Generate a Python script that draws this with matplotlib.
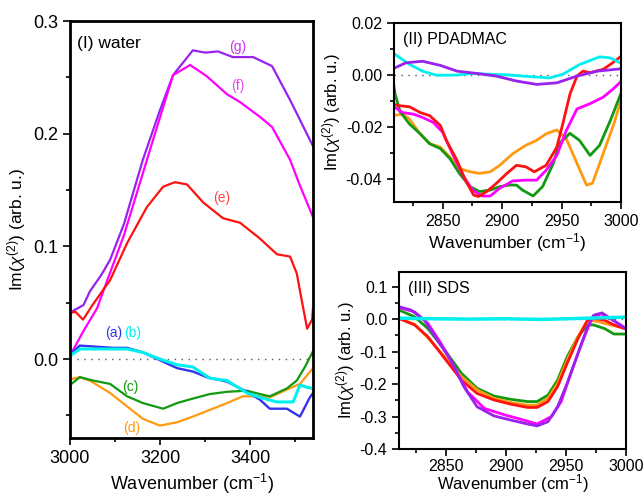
import matplotlib
matplotlib.use("Agg")
import matplotlib.pyplot as plt
from matplotlib.ticker import MultipleLocator, FormatStrFormatter

plt.rcParams['font.family'] = ['Liberation Sans', 'DejaVu Sans']
plt.rcParams['axes.unicode_minus'] = False
plt.rcParams['mathtext.fontset'] = 'custom'
plt.rcParams['mathtext.rm'] = 'Liberation Sans'
plt.rcParams['mathtext.it'] = 'Liberation Sans:italic'

# ---------------- Panel I: water ----------------
w_a_x = [3000, 3022, 3059, 3096, 3127, 3162, 3200, 3238, 3273, 3304, 3349, 3393, 3422, 3444, 3482, 3511, 3533, 3540]
w_a_y = [0.004, 0.012, 0.011, 0.010, 0.010, 0.006, -0.001, -0.008, -0.011, -0.016, -0.020, -0.029, -0.036, -0.044, -0.044, -0.051, -0.034, -0.030]
w_b_x = [3000, 3022, 3093, 3127, 3162, 3200, 3238, 3273, 3311, 3349, 3393, 3422, 3460, 3496, 3511, 3527, 3540]
w_b_y = [0.003, 0.009, 0.009, 0.009, 0.006, 0.000, -0.005, -0.007, -0.017, -0.019, -0.030, -0.034, -0.038, -0.038, -0.023, -0.025, -0.026]
w_c_x = [3000, 3022, 3051, 3089, 3127, 3162, 3207, 3238, 3273, 3311, 3349, 3393, 3422, 3444, 3482, 3504, 3522, 3540]
w_c_y = [-0.023, -0.016, -0.019, -0.022, -0.033, -0.039, -0.044, -0.039, -0.035, -0.031, -0.029, -0.028, -0.031, -0.033, -0.026, -0.019, -0.007, 0.007]
w_d_x = [3000, 3022, 3044, 3089, 3127, 3162, 3200, 3238, 3273, 3311, 3349, 3384, 3422, 3444, 3482, 3511, 3540]
w_d_y = [-0.018, -0.016, -0.019, -0.030, -0.042, -0.053, -0.059, -0.056, -0.051, -0.045, -0.039, -0.033, -0.033, -0.034, -0.027, -0.022, -0.008]
w_e_x = [3000, 3012, 3029, 3050, 3073, 3089, 3127, 3171, 3207, 3233, 3260, 3296, 3340, 3378, 3422, 3460, 3489, 3504, 3516, 3527, 3538, 3540]
w_e_y = [0.041, 0.042, 0.035, 0.048, 0.061, 0.070, 0.103, 0.135, 0.153, 0.157, 0.155, 0.139, 0.125, 0.121, 0.107, 0.093, 0.091, 0.076, 0.050, 0.027, 0.035, 0.045]
w_f_x = [3000, 3030, 3060, 3081, 3120, 3178, 3229, 3267, 3304, 3349, 3378, 3422, 3449, 3489, 3510, 3540]
w_f_y = [0.003, 0.025, 0.045, 0.068, 0.110, 0.186, 0.252, 0.261, 0.251, 0.235, 0.228, 0.215, 0.206, 0.177, 0.155, 0.126]
w_g_x = [3000, 3012, 3030, 3044, 3070, 3089, 3120, 3162, 3200, 3229, 3273, 3300, 3329, 3362, 3407, 3449, 3489, 3540]
w_g_y = [0.041, 0.044, 0.048, 0.060, 0.075, 0.088, 0.120, 0.177, 0.221, 0.252, 0.274, 0.272, 0.273, 0.268, 0.268, 0.260, 0.230, 0.189]

# ---------------- Panel II: PDADMAC ----------------
p_cyan_x = [2808, 2822, 2833, 2845, 2862, 2875, 2890, 2904, 2923, 2940, 2951, 2965, 2982, 2991, 3000]
p_cyan_y = [0.0085, 0.0041, 0.0015, -0.0001, 0.0000, 0.0006, 0.0003, 0.0001, -0.0006, -0.0011, 0.0003, 0.0040, 0.0070, 0.0066, 0.0045]
p_purple_x = [2808, 2819, 2833, 2848, 2862, 2879, 2895, 2912, 2929, 2946, 2963, 2980, 3000]
p_purple_y = [0.0024, 0.0047, 0.0053, 0.0037, 0.0015, 0.0006, -0.0004, -0.0023, -0.0036, -0.0030, -0.0004, 0.0015, 0.0024]
p_red_x = [2808, 2814, 2822, 2831, 2839, 2848, 2853, 2862, 2869, 2876, 2880, 2887, 2895, 2904, 2912, 2920, 2927, 2937, 2946, 2951, 2957, 2963, 2968, 2974, 2985, 2993, 3000]
p_red_y = [-0.0112, -0.0118, -0.0122, -0.0144, -0.0156, -0.0194, -0.0251, -0.0328, -0.0404, -0.0461, -0.0467, -0.0448, -0.0417, -0.0378, -0.0347, -0.0353, -0.0372, -0.0347, -0.0277, -0.0188, -0.0074, -0.0004, 0.0015, 0.0009, 0.0022, 0.0047, 0.0072]
p_magenta_x = [2808, 2816, 2825, 2833, 2842, 2850, 2858, 2867, 2875, 2883, 2890, 2898, 2909, 2920, 2929, 2937, 2946, 2954, 2963, 2974, 2985, 2993, 3000]
p_magenta_y = [-0.0118, -0.0144, -0.0150, -0.0163, -0.0182, -0.0220, -0.0301, -0.0385, -0.0442, -0.0465, -0.0465, -0.0435, -0.0407, -0.0404, -0.0404, -0.0366, -0.0309, -0.0213, -0.0130, -0.0110, -0.0085, -0.0055, -0.0025]
p_green_x = [2808, 2810, 2814, 2822, 2831, 2839, 2848, 2856, 2864, 2873, 2881, 2890, 2898, 2906, 2912, 2917, 2926, 2934, 2943, 2948, 2957, 2965, 2974, 2982, 2991, 3000]
p_green_y = [-0.0017, -0.0074, -0.0140, -0.0188, -0.0226, -0.0264, -0.0283, -0.0321, -0.0378, -0.0429, -0.0448, -0.0442, -0.0429, -0.0423, -0.0423, -0.0442, -0.0465, -0.0429, -0.0340, -0.0264, -0.0224, -0.0251, -0.0309, -0.0270, -0.0175, -0.0070]
p_orange_x = [2808, 2816, 2822, 2831, 2839, 2848, 2856, 2864, 2873, 2881, 2890, 2898, 2909, 2920, 2929, 2937, 2946, 2954, 2963, 2971, 2976, 2985, 2994, 3000]
p_orange_y = [-0.0156, -0.0150, -0.0169, -0.0226, -0.0264, -0.0277, -0.0315, -0.0359, -0.0372, -0.0378, -0.0372, -0.0347, -0.0302, -0.0270, -0.0251, -0.0226, -0.0211, -0.0245, -0.0340, -0.0423, -0.0416, -0.0302, -0.0188, -0.0095]

# ---------------- Panel III: SDS ----------------
s_cyan_x = [2810, 2840, 2870, 2900, 2930, 2960, 2980, 3000]
s_cyan_y = [0.003, 0.001, 0.000, 0.001, -0.001, 0.002, 0.004, 0.006]
s_purple_x = [2811, 2821, 2832, 2843, 2854, 2865, 2876, 2890, 2904, 2918, 2926, 2935, 2943, 2951, 2960, 2968, 2973, 2980, 2987, 3000]
s_purple_y = [0.038, 0.028, -0.003, -0.065, -0.126, -0.208, -0.270, -0.298, -0.311, -0.323, -0.329, -0.316, -0.270, -0.198, -0.106, -0.024, 0.012, 0.019, 0.002, -0.030]
s_magenta_x = [2811, 2824, 2835, 2846, 2857, 2868, 2882, 2899, 2913, 2926, 2938, 2946, 2954, 2963, 2971, 2979, 2987, 3000]
s_magenta_y = [0.036, 0.022, -0.013, -0.075, -0.147, -0.224, -0.275, -0.295, -0.309, -0.323, -0.300, -0.254, -0.167, -0.075, -0.003, 0.017, 0.002, -0.029]
s_green_x = [2811, 2824, 2835, 2849, 2863, 2876, 2890, 2904, 2918, 2926, 2935, 2943, 2951, 2960, 2968, 2973, 2982, 2990, 3000]
s_green_y = [0.028, 0.007, -0.029, -0.095, -0.167, -0.213, -0.237, -0.247, -0.254, -0.254, -0.234, -0.188, -0.116, -0.054, -0.018, -0.018, -0.029, -0.046, -0.046]
s_orange_x = [2811, 2824, 2835, 2849, 2863, 2876, 2890, 2904, 2918, 2926, 2935, 2943, 2951, 2960, 2968, 2977, 2987, 3000]
s_orange_y = [0.002, -0.016, -0.058, -0.116, -0.177, -0.218, -0.244, -0.257, -0.265, -0.265, -0.244, -0.198, -0.126, -0.054, -0.003, -0.008, -0.018, -0.029]
s_red_x = [2811, 2824, 2835, 2849, 2863, 2876, 2890, 2904, 2918, 2926, 2935, 2943, 2951, 2960, 2968, 2973, 2982, 2990, 3000]
s_red_y = [0.002, -0.018, -0.054, -0.121, -0.188, -0.229, -0.249, -0.262, -0.272, -0.272, -0.254, -0.208, -0.136, -0.060, -0.003, 0.002, -0.003, -0.018, -0.031]

C_BLUE = '#3333ee'
C_CYAN = '#00f0f0'
C_GREEN = '#119911'
C_ORANGE = '#ff9911'
C_RED = '#ff1111'
C_MAG = '#ff00ff'
C_PURP = '#9922ee'

ylab = r'Im($\chi^{(2)}$) (arb. u.)'

fig = plt.figure(figsize=(6.44, 4.97), dpi=100)

def style(ax, spw=1.8):
    for s in ax.spines.values():
        s.set_linewidth(spw)
    ax.tick_params(which='both', direction='out', top=False, right=False, width=1.2)
    ax.tick_params(which='major', length=5)
    ax.tick_params(which='minor', length=3)

# Panel I
ax1 = fig.add_axes([0.1087, 0.1187, 0.3773, 0.839])
ax1.axhline(0, color='#555555', ls=(0, (1, 4)), lw=1.0, zorder=1)
ax1.plot(w_g_x, w_g_y, color=C_PURP, lw=1.6)
ax1.plot(w_f_x, w_f_y, color=C_MAG, lw=1.6)
ax1.plot(w_e_x, w_e_y, color=C_RED, lw=1.6)
ax1.plot(w_d_x, w_d_y, color=C_ORANGE, lw=1.6)
ax1.plot(w_c_x, w_c_y, color=C_GREEN, lw=1.6)
ax1.plot(w_a_x, w_a_y, color=C_BLUE, lw=1.7)
ax1.plot(w_b_x, w_b_y, color=C_CYAN, lw=2.2)
ax1.set_xlim(3000, 3540)
ax1.set_ylim(-0.07, 0.3)
ax1.xaxis.set_major_locator(MultipleLocator(200))
ax1.xaxis.set_minor_locator(MultipleLocator(100))
ax1.yaxis.set_major_locator(MultipleLocator(0.1))
ax1.yaxis.set_minor_locator(MultipleLocator(0.05))
ax1.yaxis.set_major_formatter(FormatStrFormatter('%.1f'))
style(ax1, 2.0)
ax1.tick_params(labelsize=13)
ax1.set_xlabel(r'Wavenumber (cm$^{-1}$)', fontsize=13, labelpad=4)
ax1.set_ylabel(ylab, fontsize=12.5, labelpad=4)
ax1.text(0.03, 0.965, '(I) water', transform=ax1.transAxes, fontsize=12.5, va='top', ha='left')
ax1.text(3373, 0.277, '(g)', color='#cc33ee', fontsize=10, ha='center', va='center')
ax1.text(3373, 0.242, '(f)', color='#ee44ee', fontsize=10, ha='center', va='center')
ax1.text(3338, 0.143, '(e)', color='#ff4444', fontsize=10, ha='center', va='center')
ax1.text(3096, 0.023, '(a)', color=C_BLUE, fontsize=10, ha='center', va='center')
ax1.text(3140, 0.023, '(b)', color=C_CYAN, fontsize=10, ha='center', va='center')
ax1.text(3133, -0.025, '(c)', color=C_GREEN, fontsize=10, ha='center', va='center')
ax1.text(3136, -0.061, '(d)', color=C_ORANGE, fontsize=10, ha='center', va='center')

# Panel II
ax2 = fig.add_axes([0.6118, 0.5936, 0.3525, 0.3601])
ax2.axhline(0, color='#555555', ls=(0, (1, 4)), lw=1.0, zorder=1)
lw2 = 2.0
ax2.plot(p_orange_x, p_orange_y, color=C_ORANGE, lw=lw2)
ax2.plot(p_green_x, p_green_y, color=C_GREEN, lw=lw2)
ax2.plot(p_magenta_x, p_magenta_y, color=C_MAG, lw=lw2)
ax2.plot(p_red_x, p_red_y, color=C_RED, lw=lw2)
ax2.plot(p_cyan_x, p_cyan_y, color=C_CYAN, lw=lw2)
ax2.plot(p_purple_x, p_purple_y, color=C_PURP, lw=lw2)
ax2.set_xlim(2809, 3000)
ax2.set_ylim(-0.0488, 0.02)
ax2.xaxis.set_major_locator(MultipleLocator(50))
ax2.xaxis.set_minor_locator(MultipleLocator(25))
ax2.yaxis.set_major_locator(MultipleLocator(0.02))
ax2.yaxis.set_minor_locator(MultipleLocator(0.01))
ax2.yaxis.set_major_formatter(FormatStrFormatter('%.2f'))
style(ax2, 1.5)
ax2.tick_params(labelsize=11.5)
ax2.set_xlabel(r'Wavenumber (cm$^{-1}$)', fontsize=12.5, labelpad=2)
ax2.set_ylabel(ylab, fontsize=12, labelpad=2)
ax2.text(0.04, 0.95, '(II) PDADMAC', transform=ax2.transAxes, fontsize=11.5, va='top', ha='left')

# Panel III
ax3 = fig.add_axes([0.6196, 0.0966, 0.3525, 0.3561])
ax3.axhline(0, color='#555555', ls=(0, (1, 4)), lw=1.0, zorder=1)
ax3.plot(s_green_x, s_green_y, color=C_GREEN, lw=lw2)
ax3.plot(s_orange_x, s_orange_y, color=C_ORANGE, lw=lw2)
ax3.plot(s_red_x, s_red_y, color=C_RED, lw=lw2)
ax3.plot(s_magenta_x, s_magenta_y, color=C_MAG, lw=lw2)
ax3.plot(s_purple_x, s_purple_y, color=C_PURP, lw=lw2)
ax3.plot(s_cyan_x, s_cyan_y, color=C_CYAN, lw=2.5)
ax3.set_xlim(2811, 3000)
ax3.set_ylim(-0.4, 0.145)
ax3.xaxis.set_major_locator(MultipleLocator(50))
ax3.xaxis.set_minor_locator(MultipleLocator(25))
ax3.yaxis.set_major_locator(MultipleLocator(0.1))
ax3.yaxis.set_minor_locator(MultipleLocator(0.05))
ax3.yaxis.set_major_formatter(FormatStrFormatter('%.1f'))
style(ax3, 1.5)
ax3.tick_params(labelsize=11.5)
ax3.tick_params(axis='x', pad=2)
ax3.set_xlabel(r'Wavenumber (cm$^{-1}$)', fontsize=12, labelpad=-1)
ax3.set_ylabel(ylab, fontsize=12, labelpad=2)
ax3.text(0.04, 0.95, '(III) SDS', transform=ax3.transAxes, fontsize=11.5, va='top', ha='left')

fig.savefig('out.png', dpi=100)
